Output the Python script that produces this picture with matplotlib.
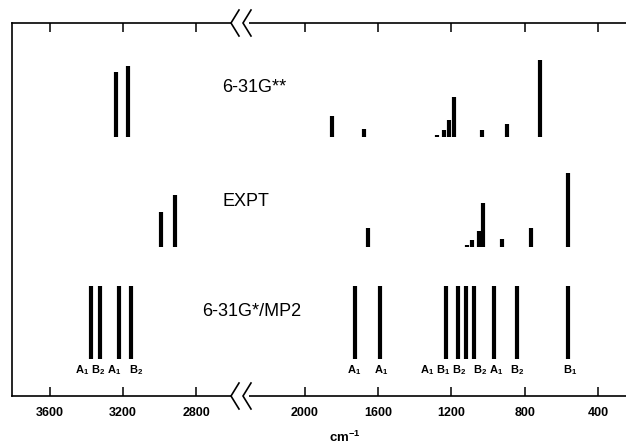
import matplotlib
matplotlib.use("Agg")
import matplotlib.pyplot as plt
from matplotlib.patches import Rectangle

plt.rcParams.update({
    "font.family": ["Liberation Sans", "DejaVu Sans"],
    "mathtext.fontset": "custom",
    "mathtext.rm": "Liberation Sans",
    "mathtext.bf": "Liberation Sans:bold",
})

# stick spectra (wavenumber in cm-1, relative intensity)
g631ss_wn = [3240, 3174, 1854, 1678, 1277, 1239, 1211, 1187, 1031, 895, 716]
g631ss_int = [65, 71, 21, 8, 2, 6.5, 17, 40, 6.5, 12.5, 76.5]

expt_wn = [2992, 2914, 1657, 1116, 1089, 1049, 1026, 925, 767, 561]
expt_int = [35, 52, 19, 2, 6.7, 16, 44, 7.7, 19, 74]

mp2_wn = [3377, 3326, 3222, 3158, 1727, 1590, 1230, 1166, 1122, 1077, 967, 843, 561]
mp2_int = [73, 73, 73, 73, 73, 73, 73, 73, 73, 73, 73, 73, 73]
mp2_sym = ["A_1", "B_2", "A_1", "B_2", "A_1", "A_1", "A_1", "B_1", "B_2", "B_2",
           "A_1", "B_2", "B_1"]
# where the symmetry labels sit along the axis (cm-1)
mp2_label_wn = [3422, 3335, 3249, 3130, 1732, 1586, 1335, 1246, 1159, 1044, 958, 842, 552]

left_ticks = [3600, 3200, 2800]
right_ticks = [2000, 1600, 1200, 800, 400]

W, H = 626, 445
fig = plt.figure(figsize=(W / 100, H / 100), dpi=100)

top_px, bot_px = 23, 396
x0, xb, x1 = 12, 240, 626
ax_h = (bot_px - top_px) / H
ax_y = (H - bot_px) / H
axL = fig.add_axes([x0 / W, ax_y, (xb - x0) / W, ax_h])
axR = fig.add_axes([xb / W, ax_y, (x1 - xb) / W, ax_h])

# vertical offsets of the three traces
base = {"631gss": 259.5, "expt": 149, "mp2": 37}

for ax, lo, hi, ticks in [(axL, 3808, 2559, left_ticks), (axR, 2355, 246, right_ticks)]:
    for wn, inten, key in [(g631ss_wn, g631ss_int, "631gss"),
                           (expt_wn, expt_int, "expt"),
                           (mp2_wn, mp2_int, "mp2")]:
        b = base[key]
        ax.vlines(wn, b, [b + v for v in inten], colors="black", linewidth=3.0,
                  capstyle="butt")
    for wn, s in zip(mp2_label_wn, mp2_sym):
        ax.text(wn, 26, r"$\mathbf{%s}$" % s, ha="center", va="center",
                fontsize=8, clip_on=True)
    ax.set_xlim(lo, hi)
    ax.set_ylim(0, bot_px - top_px)
    ax.set_xticks(ticks)
    ax.set_xticklabels([str(t) for t in ticks], fontweight="bold", fontsize=9)
    ax.set_yticks([])
    ax.tick_params(axis="x", direction="in", top=True, length=6.5, width=1.1, pad=8)
    ax.spines["right"].set_visible(False)
    for sp in ax.spines.values():
        sp.set_linewidth(1.2)
axR.spines["left"].set_visible(False)

# overlay in pixel coordinates for break marks and annotations
ov = fig.add_axes([0, 0, 1, 1], zorder=10)
ov.set_xlim(0, W)
ov.set_ylim(H, 0)
ov.axis("off")
ov.patch.set_visible(False)

for yb in (top_px, bot_px):
    ov.add_patch(Rectangle((231, yb - 3), 18, 6, facecolor="white", edgecolor="none"))
    for vx in (231, 243):
        ov.plot([vx + 8, vx, vx + 8], [yb - 13, yb, yb + 13], color="black",
                linewidth=1.2, solid_joinstyle="miter")

ov.text(222, 87, "6-31G**", fontsize=13, ha="left", va="center")
ov.text(222, 201, "EXPT", fontsize=13, ha="left", va="center")
ov.text(202, 312, "6-31G*/MP2", fontsize=13, ha="left", va="center")
ov.text(345, 437, r"$\mathbf{cm^{-1}}$", fontsize=9.5, ha="center", va="center")

fig.savefig("out.png", dpi=100)
